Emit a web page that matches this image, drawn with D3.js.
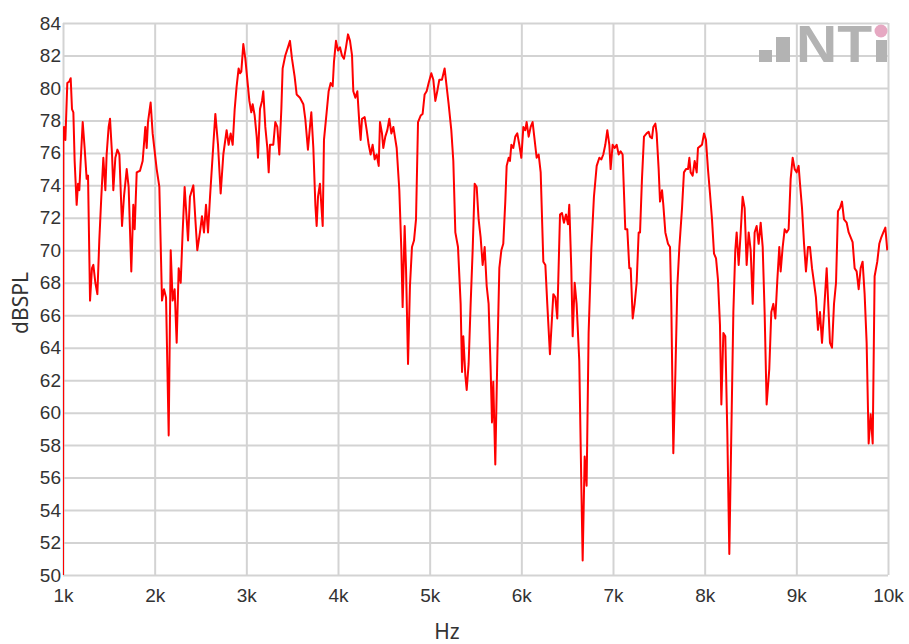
<!DOCTYPE html>
<html>
<head>
<meta charset="utf-8">
<script src="https://cdn.jsdelivr.net/npm/d3@7.9.0/dist/d3.min.js"></script>
<style>
  html, body { margin: 0; padding: 0; background: #fff; }
  svg { display: block; font-family: "Noto Sans", "Open Sans", sans-serif; }
</style>
</head>
<body>
<svg id="chart" width="909" height="644"></svg>
<script>
// frequency (Hz) and level (dB SPL)
const freqHz = [
  1000, 1004, 1011, 1026, 1047, 1069, 1084, 1098, 1113, 1127, 1149, 1164, 1178, 1193, 1215, 1236, 1258, 1273, 1295, 1316,
  1331, 1353, 1375, 1396, 1418, 1440, 1462, 1476, 1498, 1513, 1535, 1549, 1571, 1593, 1615, 1644, 1665, 1695, 1716, 1745,
  1767, 1782, 1804, 1840, 1869, 1898, 1913, 1927, 1956, 1978, 2022, 2051, 2080, 2102, 2124, 2153, 2175, 2196, 2218, 2240,
  2262, 2284, 2305, 2327, 2364, 2385, 2422, 2444, 2465, 2494, 2516, 2538, 2560, 2582, 2604, 2640, 2662, 2691, 2720, 2749,
  2785, 2807, 2829, 2851, 2873, 2894, 2916, 2931, 2945, 2967, 2989, 3011, 3033, 3054, 3069, 3091, 3113, 3127, 3149, 3171,
  3185, 3207, 3229, 3244, 3258, 3294, 3316, 3338, 3360, 3382, 3396, 3425, 3454, 3476, 3498, 3527, 3549, 3585, 3622, 3643,
  3672, 3694, 3709, 3731, 3753, 3767, 3782, 3803, 3818, 3833, 3847, 3876, 3898, 3920, 3942, 3956, 3978, 4000, 4022, 4043,
  4065, 4087, 4109, 4131, 4153, 4167, 4189, 4211, 4233, 4247, 4262, 4291, 4313, 4335, 4356, 4378, 4400, 4422, 4444, 4458,
  4480, 4494, 4516, 4538, 4560, 4582, 4604, 4640, 4669, 4691, 4705, 4727, 4742, 4764, 4785, 4807, 4829, 4851, 4873, 4902,
  4923, 4945, 4967, 4989, 5018, 5040, 5062, 5083, 5105, 5134, 5163, 5185, 5207, 5236, 5258, 5280, 5309, 5338, 5353, 5367,
  5389, 5404, 5425, 5447, 5469, 5491, 5513, 5534, 5556, 5578, 5600, 5622, 5643, 5665, 5680, 5694, 5716, 5738, 5760, 5782,
  5803, 5825, 5840, 5862, 5876, 5891, 5912, 5934, 5956, 5978, 6000, 6022, 6043, 6058, 6080, 6102, 6123, 6145, 6167, 6189,
  6211, 6240, 6262, 6283, 6312, 6327, 6349, 6371, 6392, 6422, 6443, 6465, 6487, 6509, 6523, 6545, 6560, 6582, 6603, 6632,
  6654, 6669, 6691, 6712, 6734, 6763, 6792, 6822, 6851, 6873, 6894, 6916, 6938, 6960, 6974, 6996, 7018, 7040, 7062, 7083,
  7105, 7134, 7156, 7178, 7193, 7215, 7236, 7258, 7280, 7295, 7316, 7338, 7367, 7389, 7404, 7425, 7440, 7462, 7476, 7498,
  7513, 7535, 7549, 7571, 7600, 7622, 7636, 7658, 7680, 7702, 7724, 7753, 7774, 7796, 7818, 7833, 7847, 7869, 7891, 7913,
  7927, 7949, 7971, 7993, 8014, 8036, 8058, 8080, 8102, 8124, 8145, 8167, 8182, 8204, 8225, 8247, 8269, 8291, 8313, 8334,
  8349, 8371, 8393, 8414, 8436, 8458, 8480, 8502, 8524, 8545, 8567, 8589, 8611, 8633, 8654, 8676, 8705, 8727, 8749, 8771,
  8793, 8814, 8829, 8851, 8873, 8894, 8916, 8938, 8960, 8982, 9003, 9025, 9040, 9062, 9084, 9105, 9127, 9149, 9171, 9193,
  9214, 9236, 9258, 9280, 9302, 9331, 9345, 9367, 9389, 9411, 9433, 9454, 9476, 9498, 9520, 9549, 9571, 9593, 9614, 9636,
  9658, 9680, 9702, 9723, 9745, 9767, 9789, 9811, 9833, 9854, 9883, 9905, 9927, 9949, 9971, 9992
];
const splDb = [
  50.0, 76.8, 77.6, 76.8, 80.3, 80.4, 80.6, 78.7, 78.5, 75.5, 72.8, 74.1, 73.7, 75.5, 77.9, 76.3, 74.4, 74.6, 66.9, 68.9,
  69.1, 68.0, 67.3, 70.6, 73.3, 75.7, 73.7, 75.9, 77.6, 78.1, 75.9, 73.7, 75.7, 76.2, 75.9, 71.5, 73.3, 75.0, 73.9, 68.7,
  72.8, 71.3, 74.8, 74.9, 75.5, 77.6, 76.3, 77.9, 79.1, 77.2, 75.0, 73.9, 66.9, 67.6, 67.1, 58.6, 70.0, 66.9, 67.6, 64.3,
  68.9, 68.0, 71.1, 73.9, 70.6, 73.3, 74.0, 71.9, 70.0, 71.1, 72.1, 71.1, 72.8, 71.1, 73.3, 76.5, 78.4, 76.5, 73.5, 75.9,
  77.4, 76.5, 77.2, 76.5, 78.7, 80.1, 81.2, 80.9, 81.0, 82.7, 81.8, 80.5, 79.2, 78.5, 79.0, 78.3, 77.0, 75.7, 78.7, 79.2,
  79.8, 77.6, 76.3, 74.8, 76.5, 76.5, 77.9, 77.6, 75.9, 78.7, 81.2, 82.0, 82.5, 82.9, 81.8, 80.7, 79.6, 79.4, 79.0, 78.1,
  76.2, 77.6, 78.5, 76.3, 72.8, 71.5, 73.3, 74.1, 72.8, 71.5, 76.8, 78.5, 79.8, 80.3, 80.1, 81.6, 82.9, 82.3, 82.5, 82.0,
  81.8, 82.5, 83.3, 82.9, 82.0, 79.8, 79.4, 79.8, 77.8, 76.8, 78.1, 78.2, 77.4, 76.5, 75.9, 76.5, 75.6, 75.9, 75.2, 77.9,
  77.2, 76.3, 77.0, 77.4, 78.1, 77.2, 77.6, 76.3, 73.7, 70.0, 66.5, 71.5, 68.9, 63.0, 67.8, 70.2, 70.6, 71.9, 77.9, 78.3,
  78.4, 79.6, 79.8, 80.3, 80.9, 80.5, 79.2, 79.8, 80.5, 80.5, 81.2, 80.1, 79.0, 77.4, 75.5, 71.1, 70.2, 66.7, 62.5, 64.7,
  62.3, 61.4, 63.0, 66.7, 70.0, 74.1, 73.9, 71.9, 70.8, 69.1, 70.2, 67.8, 66.7, 62.7, 59.4, 61.9, 56.8, 63.4, 68.9, 70.0,
  70.4, 73.0, 75.2, 75.7, 75.5, 76.5, 76.3, 77.0, 77.2, 76.5, 75.7, 77.6, 77.4, 77.9, 77.0, 77.6, 77.9, 76.8, 75.7, 75.9,
  74.8, 69.3, 69.1, 66.7, 63.6, 65.1, 67.3, 67.1, 65.8, 72.2, 72.3, 71.7, 72.2, 71.6, 72.8, 68.9, 64.7, 68.0, 66.7, 63.2,
  55.7, 50.9, 57.3, 55.5, 64.9, 70.0, 73.3, 75.2, 75.7, 75.6, 75.9, 76.5, 77.4, 76.5, 75.0, 76.5, 76.3, 76.5, 75.9, 76.1,
  75.9, 71.3, 71.3, 68.9, 68.9, 65.8, 66.7, 68.0, 71.1, 71.1, 74.4, 77.0, 77.2, 77.3, 77.0, 76.9, 77.6, 77.8, 77.2, 75.0,
  73.0, 73.7, 72.8, 71.1, 70.4, 70.2, 66.7, 57.5, 62.3, 67.8, 70.2, 72.6, 74.8, 75.0, 75.0, 75.7, 74.8, 74.6, 75.5, 74.8,
  76.3, 76.4, 76.5, 77.2, 76.8, 75.0, 73.5, 71.9, 69.8, 69.5, 68.2, 65.4, 60.5, 64.9, 64.7, 58.8, 51.3, 58.8, 66.2, 70.0,
  71.1, 69.1, 71.1, 73.3, 72.6, 69.1, 71.1, 70.0, 66.7, 71.1, 71.5, 70.4, 71.7, 70.2, 66.2, 60.5, 62.7, 66.2, 66.7, 65.8,
  68.2, 70.2, 68.7, 70.2, 71.3, 71.1, 71.3, 74.4, 75.7, 75.0, 74.8, 75.2, 74.1, 72.6, 70.4, 68.7, 70.2, 70.2, 68.9, 68.0,
  67.1, 65.1, 66.2, 64.3, 66.2, 68.9, 67.1, 64.3, 64.0, 66.7, 68.0, 72.4, 72.6, 73.0, 71.9, 71.7, 71.1, 70.8, 70.5, 68.9,
  68.7, 67.6, 68.9, 69.3, 67.3, 64.3, 58.1, 59.9, 58.1, 68.4, 69.3, 70.4, 70.8, 71.1, 71.4, 70.0
];
const xTicks = [1000, 2000, 3000, 4000, 5000, 6000, 7000, 8000, 9000, 10000];
const xTickLabels = ['1k', '2k', '3k', '4k', '5k', '6k', '7k', '8k', '9k', '10k'];
const yTicks = [50, 52, 54, 56, 58, 60, 62, 64, 66, 68, 70, 72, 74, 76, 78, 80, 82, 84];

const margin = { top: 23, right: 21, bottom: 69, left: 63 };
const width = 909 - margin.left - margin.right;
const height = 644 - margin.top - margin.bottom;

const svg = d3.select('#chart');
const g = svg.append('g').attr('transform', `translate(${margin.left},${margin.top})`);

const x = d3.scaleLinear().domain([1000, 10000]).range([0, width]);
const y = d3.scaleLinear().domain([50, 84]).range([height, 0]);

const gridColor = '#d3d3d3';

// horizontal grid + y labels
const yAxis = g.append('g')
  .call(d3.axisLeft(y).tickValues(yTicks).tickSize(-width).tickPadding(2).tickFormat(d3.format('d')));
yAxis.select('.domain').remove();
yAxis.selectAll('line').attr('stroke', gridColor).attr('stroke-width', 2);
yAxis.selectAll('text').attr('fill', '#333').style('font-size', '19px');

// vertical grid + x labels
const xAxis = g.append('g')
  .attr('transform', `translate(0,${height})`)
  .call(d3.axisBottom(x).tickValues(xTicks).tickSize(-height).tickPadding(14)
    .tickFormat((d, i) => xTickLabels[i]));
xAxis.select('.domain').remove();
xAxis.selectAll('line').attr('stroke', gridColor).attr('stroke-width', 2);
xAxis.selectAll('text').attr('fill', '#333').style('font-size', '19px');

// NTi logo, top right
const logo = g.append('g').attr('fill', '#b3b3b3');
logo.append('rect').attr('x', width - 129).attr('y', 27).attr('width', 13).attr('height', 12);
logo.append('rect').attr('x', width - 112).attr('y', 14).attr('width', 14).attr('height', 25);
logo.append('text')
  .attr('x', width - 92).attr('y', 39)
  .attr('textLength', 76).attr('lengthAdjust', 'spacingAndGlyphs')
  .style('font-family', '"Liberation Sans", Arial, sans-serif')
  .style('font-weight', 'bold').style('font-size', '51px')
  .text('NT');
logo.append('rect').attr('x', width - 12).attr('y', 17).attr('width', 11).attr('height', 22);
logo.append('circle').attr('cx', width - 7).attr('cy', 8).attr('r', 6.5).attr('fill', '#e6a8c2');

// the response curve
g.append('clipPath').attr('id', 'plot-clip')
  .append('rect').attr('width', width).attr('height', height);

const line = d3.line()
  .x((d, i) => x(freqHz[i]))
  .y(d => y(d));

g.append('path')
  .datum(splDb)
  .attr('clip-path', 'url(#plot-clip)')
  .attr('fill', 'none')
  .attr('stroke', '#ff0000')
  .attr('stroke-width', 2)
  .attr('stroke-linejoin', 'round')
  .attr('d', line);

// axis titles
svg.append('text')
  .attr('x', 447).attr('y', 639)
  .attr('text-anchor', 'middle').attr('fill', '#333')
  .style('font-size', '21px')
  .text('Hz');

svg.append('text')
  .attr('transform', 'translate(28,303) rotate(-90)')
  .attr('text-anchor', 'middle').attr('fill', '#333')
  .style('font-size', '21px')
  .text('dBSPL');
</script>
</body>
</html>
